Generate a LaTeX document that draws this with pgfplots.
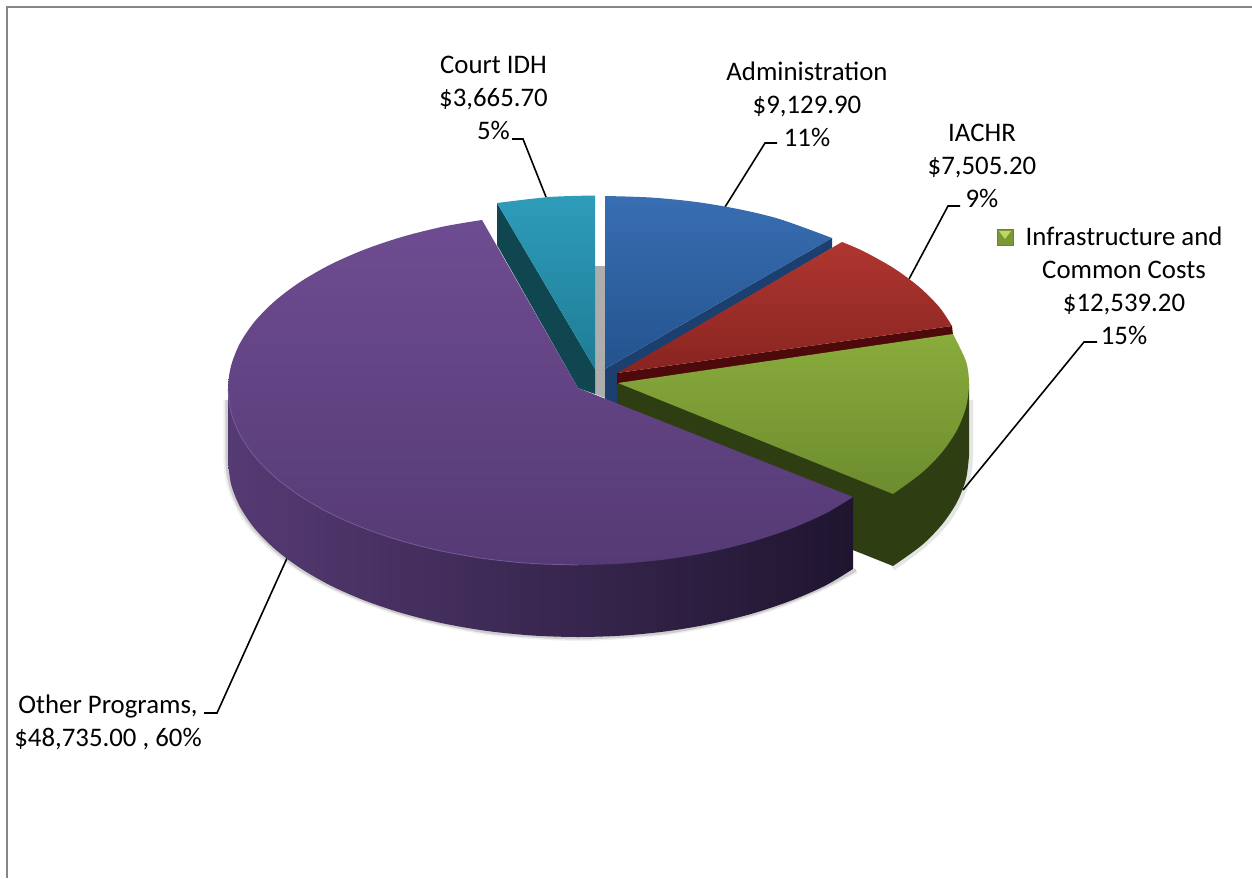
\documentclass[border=0pt]{standalone}
\usepackage{pgfplots}
\pgfplotsset{compat=1.18}
\usepackage{fontspec}
\setmainfont{Carlito}
\definecolor{frameg}{HTML}{868686}
\tikzset{lab/.style={font=\fontsize{13.4}{16.5}\selectfont, align=center, inner sep=0pt, text=black}}
\begin{document}
\begin{tikzpicture}
\begin{axis}[
  scale only axis, width=626pt, height=439pt,
  xmin=0, xmax=1252, ymin=0, ymax=878, y dir=reverse,
  hide axis, enlargelimits=false,
]
% canvas and frame (picture coordinates, y down)
\addplot[draw=none, fill=white] coordinates {(0,0) (1252,0) (1252,878) (0,878)} --cycle;
\addplot[frameg, line width=1pt] coordinates {(6.5,878) (6.5,6.5) (1252,6.5)};

% soft shadow under the rim
\addplot[smooth, black, opacity=0.06, line width=3pt] coordinates {(226.5,400) (226.5,461) (229.5,484) (238.5,507) (253,529) (274,550) (300,569) (330,586) (365,601) (403,614) (444,624) (487,632) (532,636) (578,638) (624,636) (669,632) (712,624) (753,614) (791,601) (826,586) (856,570)};
\addplot[smooth, black, opacity=0.14, line width=1.5pt] coordinates {(227,400) (227,461) (230,484) (239,507) (254,529) (275,550) (300,569) (330,586) (365,601) (403,614) (444,624) (487,632) (532,636) (578,638) (624,636) (669,632) (712,624) (753,614) (791,601) (826,586) (856,570)};
\addplot[smooth, black, opacity=0.10, line width=2.5pt] coordinates {(970.5,400) (970.5,456) (967.5,480) (958.5,503) (944,525) (923,546) (893,568)};

% leader lines
\addplot[black, line width=0.8pt] coordinates {(512,139) (523,139) (546,197)};
\addplot[black, line width=0.8pt] coordinates {(777,143) (765,143) (725,207)};
\addplot[black, line width=0.8pt] coordinates {(960,206) (948,206) (909,279)};
\addplot[black, line width=0.8pt] coordinates {(1097,342) (1084,342) (963,490)};
\addplot[black, line width=0.8pt] coordinates {(204,713) (217,713) (288,556)};

% gap behind the slices
\addplot[draw=none, fill=black!32] coordinates {(595,266) (605,266) (605,398) (595,394)} --cycle;

% Court IDH
\addplot[draw=none, fill={rgb,255:red,15;green,70;blue,80}] coordinates {(497,203) (595,369) (595,394) (578,388) (497,245)} --cycle;
\addplot[smooth, draw=none, top color={rgb,255:red,46;green,156;blue,186}, bottom color={rgb,255:red,30;green,125;blue,150}] coordinates {(497,203) (549.3,197) (595,195.5)} -- (axis cs:595,369) --cycle;

% Administration
\addplot[draw=none, fill={rgb,255:red,27;green,63;blue,110}] coordinates {(605,369) (832,238) (832,248) (617,374) (617,404) (605,399)} --cycle;
\addplot[smooth, draw=none, top color={rgb,255:red,56;green,110;blue,178}, bottom color={rgb,255:red,36;green,83;blue,142}] coordinates {(605,196) (650.7,197.5) (695.6,201.9) (738.9,209.2) (780,219.2) (832,238)} -- (axis cs:605,369) --cycle;

% IACHR
\addplot[draw=none, fill={rgb,255:red,78;green,10;blue,10}] coordinates {(617,373) (952,326) (953,335) (618,385) (617,385)} --cycle;
\addplot[smooth, draw=none, top color={rgb,255:red,176;green,54;blue,48}, bottom color={rgb,255:red,136;green,36;blue,32}] coordinates {(842,242) (863.8,251.4) (893.9,268.3) (919.2,287) (939.4,307.2) (952,326)} -- (axis cs:617,373) --cycle;

% Infrastructure and Common Costs
\addplot[smooth, draw=none, fill={rgb,255:red,47;green,62;blue,18}] coordinates {(969,456) (966,479) (957.1,502) (942.4,524) (922.1,545) (893,566)} -- (axis cs:617,456) -- (axis cs:617,384) -- (axis cs:969,384) --cycle;
\addplot[smooth, draw=none, top color={rgb,255:red,138;green,172;blue,60}, bottom color={rgb,255:red,108;green,140;blue,46}] coordinates {(953,334) (966,361.4) (969,384) (966,407.1) (957.1,429.8) (942.4,451.7) (922.1,472.5) (893,494)} -- (axis cs:618,383) --cycle;

% Other Programs
\addplot[smooth, draw=none, left color={rgb,255:red,85;green,58;blue,115}, middle color={rgb,255:red,58;green,38;blue,82}, right color={rgb,255:red,31;green,21;blue,47}] coordinates {(228,461) (231,484) (239.9,506.6) (254.6,528.4) (274.9,549) (300.3,568.1) (330.5,585.5) (364.9,600.6) (403,613.4) (444.1,623.6) (487.4,631) (532.3,635.5) (578,637) (623.7,635.5) (668.6,631) (711.9,623.6) (753,613.4) (791.1,600.6) (825.5,585.5) (853,569)} -- (axis cs:853,497) -- (axis cs:228,389) --cycle;
\addplot[smooth, draw=none, top color={rgb,255:red,110;green,76;blue,145}, bottom color={rgb,255:red,85;green,58;blue,117}] coordinates {(482,220) (444.1,226.4) (403,236.6) (364.9,249.4) (330.5,264.5) (300.3,281.9) (274.9,301) (254.6,321.6) (239.9,343.4) (231,366) (228,389) (231,412) (239.9,434.6) (254.6,456.4) (274.9,477) (300.3,496.1) (330.5,513.5) (364.9,528.6) (403,541.4) (444.1,551.6) (487.4,559) (532.3,563.5) (578,565) (623.7,563.5) (668.6,559) (711.9,551.6) (753,541.4) (791.1,528.6) (825.5,513.5) (853,497)} -- (axis cs:578,388) --cycle;
% lighter rim on the purple top
\addplot[smooth, color={rgb,255:red,128;green,100;blue,165}, line width=0.4pt, opacity=0.8] coordinates {(228,389) (231,412) (239.9,434.6) (254.6,456.4) (274.9,477) (300.3,496.1) (330.5,513.5) (364.9,528.6) (403,541.4) (444.1,551.6) (487.4,559) (532.3,563.5) (578,565)};

% legend key
\addplot[draw={rgb,255:red,110;green,125;blue,75}, line width=0.4pt, fill={rgb,255:red,122;green,152;blue,52}] coordinates {(997,229) (1013,229) (1013,245) (997,245)} --cycle;
\addplot[draw=none, fill={rgb,255:red,190;green,215;blue,105}] coordinates {(999,231) (1011,231) (1005,239)} --cycle;

% labels
\node[lab] at (axis cs:493.5,98) {Court IDH\\\$3,665.70\\5\%};
\node[lab] at (axis cs:807,104) {Administration\\\$9,129.90\\11\%};
\node[lab] at (axis cs:982,166) {IACHR\\\$7,505.20\\9\%};
\node[lab] at (axis cs:1124,286) {Infrastructure and\\Common Costs\\\$12,539.20\\15\%};
\node[lab] at (axis cs:108,722) {Other Programs,\\\$48,735.00 , 60\%};
\end{axis}
\end{tikzpicture}
\end{document}
